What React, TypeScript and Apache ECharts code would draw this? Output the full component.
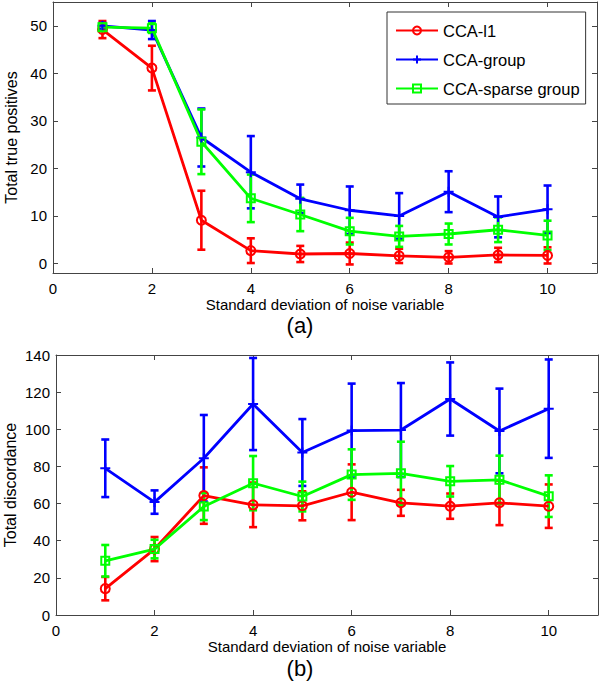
import React, { useEffect, useRef } from "react";
import * as echarts from "echarts";

const xs = [1, 2, 3, 4, 5, 6, 7, 8, 9, 10];
const xTicks = [0, 2, 4, 6, 8, 10];
const tpTicks = [0, 10, 20, 30, 40, 50];
const dTicks = [0, 20, 40, 60, 80, 100, 120, 140];

const names = ["CCA-l1", "CCA-group", "CCA-sparse group"];

const tpL1 = [49.2, 41.1, 9.1, 2.7, 2.0, 2.1, 1.6, 1.3, 1.8, 1.7];
const tpL1Err = [1.8, 4.7, 6.2, 2.6, 1.7, 2.3, 1.5, 1.3, 1.5, 1.7];
const tpGroup = [50.0, 49.1, 26.5, 19.2, 13.6, 11.2, 10.0, 15.1, 9.8, 11.4];
const tpGroupErr = [0.6, 1.9, 6.1, 7.6, 3.0, 5.0, 4.8, 4.3, 4.3, 5.0];
const tpSparse = [49.7, 49.5, 25.6, 13.7, 10.3, 6.8, 5.7, 6.2, 7.1, 5.9];
const tpSparseErr = [0.8, 1.0, 6.8, 5.0, 3.5, 2.8, 2.2, 2.2, 2.6, 3.1];

const dL1 = [14.2, 35.5, 64.3, 59.3, 58.8, 66.1, 60.4, 58.6, 60.4, 58.6];
const dL1Err = [6.3, 6.5, 15.2, 12.0, 7.8, 15.0, 7.0, 6.8, 12.0, 11.7];
const dGroup = [79.0, 60.8, 84.4, 113.6, 87.5, 99.3, 99.6, 116.3, 99.1, 111.1];
const dGroupErr = [15.5, 6.3, 23.3, 24.8, 18.0, 25.3, 25.3, 19.7, 22.8, 26.5];
const dSparse = [29.2, 35.5, 58.4, 71.0, 63.8, 75.6, 76.3, 72.0, 72.8, 64.0];
const dSparseErr = [8.5, 5.0, 7.3, 14.6, 8.0, 13.6, 17.0, 8.2, 13.0, 11.2];

const FONT = "'Liberation Sans', Arial, sans-serif";
const COLORS = ["#ff0000", "#0000ff", "#00ff00"];
const SYMBOLS = ["circle", "path://M5 0V10M0 5H10", "rect"];
const SYMBOL_SIZES = [9, 10, 8];
const AXIS_COLOR = "#444";

function errSeries(color: string, vals: number[], errs: number[], xi: number, yi: number, name: string) {
  return {
    type: "custom",
    name,
    xAxisIndex: xi,
    yAxisIndex: yi,
    encode: { x: 0, y: [1, 2] },
    data: xs.map((x, i) => [x, vals[i] - errs[i], vals[i] + errs[i]]),
    renderItem: (params: any, api: any) => {
      const x = api.value(0);
      const lo = api.coord([x, api.value(1)]);
      const hi = api.coord([x, api.value(2)]);
      const hw = 4;
      const style = { stroke: color, lineWidth: 2.6, fill: null };
      return {
        type: "group",
        children: [
          { type: "line", shape: { x1: lo[0], y1: lo[1], x2: hi[0], y2: hi[1] }, style },
          { type: "line", shape: { x1: lo[0] - hw, y1: lo[1], x2: lo[0] + hw, y2: lo[1] }, style },
          { type: "line", shape: { x1: hi[0] - hw, y1: hi[1], x2: hi[0] + hw, y2: hi[1] }, style },
        ],
      };
    },
  };
}

function lineSeries(k: number, vals: number[], xi: number, yi: number) {
  return {
    type: "line",
    name: names[k],
    xAxisIndex: xi,
    yAxisIndex: yi,
    data: xs.map((x, i) => [x, vals[i]]),
    symbol: SYMBOLS[k],
    symbolSize: SYMBOL_SIZES[k],
    showSymbol: true,
    lineStyle: { color: COLORS[k], width: 2.8 },
    itemStyle: { color: "rgba(0,0,0,0)", borderColor: COLORS[k], borderWidth: 2 },
  };
}

function xAxisPair(gridIndex: number) {
  const common = {
    gridIndex,
    type: "value",
    min: 0,
    max: 11,
    axisLine: { show: true, onZero: false, lineStyle: { color: AXIS_COLOR, width: 1 } },
    axisTick: { show: true, inside: true, length: 5, customValues: xTicks, lineStyle: { color: AXIS_COLOR } },
    splitLine: { show: false },
  };
  return [
    {
      ...common,
      position: "bottom",
      axisLabel: { show: true, customValues: xTicks, margin: 8, color: "#000", fontSize: 15, fontFamily: FONT },
      name: "Standard deviation of noise variable",
      nameLocation: "middle",
      nameGap: 24,
      nameMoveOverlap: false,
      nameTextStyle: { color: "#000", fontSize: 15, fontFamily: FONT },
    },
    { ...common, position: "top", axisLabel: { show: false } },
  ];
}

function yAxisPair(gridIndex: number, min: number, max: number, ticks: number[], name: string, nameGap: number) {
  const common = {
    gridIndex,
    type: "value",
    min,
    max,
    axisLine: { show: true, onZero: false, lineStyle: { color: AXIS_COLOR, width: 1 } },
    axisTick: { show: true, inside: true, length: 5, customValues: ticks, lineStyle: { color: AXIS_COLOR } },
    splitLine: { show: false },
  };
  return [
    {
      ...common,
      position: "left",
      axisLabel: { show: true, customValues: ticks, margin: 6, color: "#000", fontSize: 15, fontFamily: FONT },
      name,
      nameLocation: "middle",
      nameGap,
      nameMoveOverlap: false,
      nameTextStyle: { color: "#000", fontSize: 16, fontFamily: FONT },
    },
    { ...common, position: "right", axisLabel: { show: false } },
  ];
}

export default function App() {
  const ref = useRef<HTMLDivElement>(null);
  useEffect(() => {
    if (!ref.current) return;
    const chart = echarts.init(ref.current, null, { renderer: "svg" });
    const option: any = {
      animation: false,
      backgroundColor: "#fff",
      grid: [
        { left: 53, top: 2, width: 544, height: 271, containLabel: false, outerBoundsMode: "none" },
        { left: 56, top: 355, width: 542, height: 260, containLabel: false, outerBoundsMode: "none" },
      ],
      xAxis: [...xAxisPair(0), ...xAxisPair(1)],
      yAxis: [
        ...yAxisPair(0, -2, 55, tpTicks, "Total true positives", 34),
        ...yAxisPair(1, 0, 140, dTicks, "Total discordance", 38),
      ],
      legend: {
        data: names,
        orient: "vertical",
        left: 387,
        top: 12,
        itemWidth: 42,
        itemHeight: 10,
        itemGap: 12,
        padding: [10, 6, 7, 8],
        borderColor: "#333",
        borderWidth: 1,
        backgroundColor: "#fff",
        textStyle: { color: "#000", fontSize: 16.5, fontFamily: FONT },
      },
      graphic: [
        { type: "text", left: "center", top: 314, style: { text: "(a)", font: `22px ${FONT}`, fill: "#000" } },
        { type: "text", left: "center", top: 657, style: { text: "(b)", font: `22px ${FONT}`, fill: "#000" } },
      ],
      series: [
        errSeries(COLORS[0], tpL1, tpL1Err, 0, 0, "e0"),
        lineSeries(0, tpL1, 0, 0),
        errSeries(COLORS[1], tpGroup, tpGroupErr, 0, 0, "e1"),
        lineSeries(1, tpGroup, 0, 0),
        errSeries(COLORS[2], tpSparse, tpSparseErr, 0, 0, "e2"),
        lineSeries(2, tpSparse, 0, 0),
        errSeries(COLORS[0], dL1, dL1Err, 2, 2, "f0"),
        lineSeries(0, dL1, 2, 2),
        errSeries(COLORS[1], dGroup, dGroupErr, 2, 2, "f1"),
        lineSeries(1, dGroup, 2, 2),
        errSeries(COLORS[2], dSparse, dSparseErr, 2, 2, "f2"),
        lineSeries(2, dSparse, 2, 2),
      ],
    };
    chart.setOption(option);
    return () => chart.dispose();
  }, []);
  return <div ref={ref} style={{ position: "fixed", left: 0, top: 0, width: 600, height: 688 }} />;
}
